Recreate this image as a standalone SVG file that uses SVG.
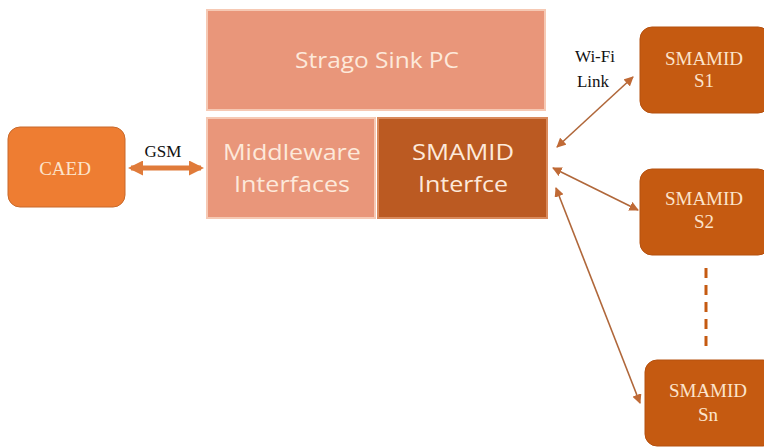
<svg xmlns="http://www.w3.org/2000/svg" width="764" height="447" viewBox="0 0 764 447">
<style>
.lt{fill:#E9967A;stroke:#F6C9B4;stroke-width:2}
.dk{fill:#BB5A22;stroke:#D98A5C;stroke-width:2}
.caed{fill:#EE7D32;stroke:#C8692A;stroke-width:1}
.sn{fill:#C55A11;stroke:#B5500E;stroke-width:1}
.tw{font-family:"Open Sans","Noto Sans",sans-serif;fill:#FDE9DA;text-anchor:middle;font-size:22px}
.ts{font-family:"Liberation Serif",serif;fill:#FCE4CC;text-anchor:middle;font-size:19px}
.tb{font-family:"Liberation Serif",serif;fill:#111;text-anchor:middle;font-size:17px}
.ln{stroke:#B0673A;stroke-width:1.6;fill:none}
</style>
<defs>
<marker id="ah" viewBox="0 0 10 10" refX="9" refY="5" markerWidth="6" markerHeight="6" orient="auto-start-reverse"><path d="M0,0 L10,5 L0,10 z" fill="#C06A36"/></marker>
<marker id="ah2" viewBox="0 0 10 10" refX="8" refY="5" markerWidth="3" markerHeight="3" orient="auto-start-reverse"><path d="M0,0 L10,5 L0,10 z" fill="#E07B3A"/></marker>
</defs>
<g id="strago"><rect class="lt" x="207" y="10" width="338" height="100"/><text class="tw" x="377" y="68" textLength="164" lengthAdjust="spacingAndGlyphs">Strago Sink PC</text></g>
<g id="middleware"><rect class="lt" x="207" y="118" width="168" height="100"/><text class="tw" x="292" y="160" textLength="138" lengthAdjust="spacingAndGlyphs">Middleware</text><text class="tw" x="292" y="192" textLength="116" lengthAdjust="spacingAndGlyphs">Interfaces</text></g>
<g id="smamid-if"><rect class="dk" x="378" y="118" width="169" height="100"/><text class="tw" x="463" y="160" textLength="102" lengthAdjust="spacingAndGlyphs">SMAMID</text><text class="tw" x="463" y="192" textLength="90" lengthAdjust="spacingAndGlyphs">Interfce</text></g>
<g id="caed"><rect class="caed" x="8" y="127" width="117" height="80" rx="12"/><text class="ts" x="65" y="175">CAED</text></g>
<g id="s1"><rect class="sn" x="640" y="27" width="130" height="86" rx="12"/><text class="ts" x="704" y="65">SMAMID</text><text class="ts" x="704" y="87">S1</text></g>
<g id="s2"><rect class="sn" x="640" y="169" width="130" height="86" rx="12"/><text class="ts" x="704" y="205">SMAMID</text><text class="ts" x="704" y="228">S2</text></g>
<g id="sn"><rect class="sn" x="645" y="360" width="130" height="86" rx="12"/><text class="ts" x="708" y="397">SMAMID</text><text class="ts" x="708" y="421">Sn</text></g>
<g id="connectors">
<line x1="131" y1="168" x2="201" y2="168" stroke="#E07B3A" stroke-width="5" marker-start="url(#ah2)" marker-end="url(#ah2)"/>
<line class="ln" x1="557" y1="147" x2="633" y2="77" marker-start="url(#ah)" marker-end="url(#ah)"/>
<line class="ln" x1="553" y1="168" x2="638" y2="210" marker-start="url(#ah)" marker-end="url(#ah)"/>
<line class="ln" x1="556" y1="188" x2="640" y2="403" marker-start="url(#ah)" marker-end="url(#ah)"/>
<line x1="706" y1="268" x2="706" y2="347" stroke="#C55A11" stroke-width="3" stroke-dasharray="10 7"/>
</g>
<text class="tb" x="163" y="157">GSM</text>
<text class="tb" x="595" y="62">Wi-Fi</text>
<text class="tb" x="593" y="87">Link</text>
</svg>
